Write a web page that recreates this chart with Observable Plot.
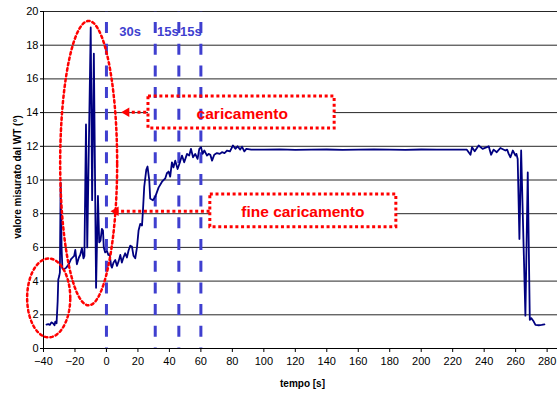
<!DOCTYPE html>
<html>
<head>
<meta charset="utf-8">
<script src="https://cdn.jsdelivr.net/npm/d3@7"></script>
<script src="https://cdn.jsdelivr.net/npm/@observablehq/plot@0.6"></script>
<style>
  html, body { margin: 0; padding: 0; background: #fff; }
  svg text { font-family: "Liberation Sans", Arial, sans-serif; }
</style>
</head>
<body>
<div id="chart"></div>
<script>
// ---- data ----
const tempo = [-38.1,-37,-36,-35,-34,-33,-32.5,-31.7,-31,-30.6,-30,-29.6,-29.1,-28.5,-28,-27,-25.5,-24,-22.5,-21.5,-20.5,-19.8,-18.8,-17.5,-16.7,-15.6,-14.6,-14,-13,-12.2,-10,-9.1,-8,-6.6,-5.4,-4.6,-3.8,-2.9,-2.2,-1.7,-0.8,0.3,1.2,2,3,3.5,4.5,5.6,6.7,7.8,8.8,9.8,10.8,11.9,13,14,15.1,16.2,17.2,18.3,19.4,20.4,21.5,22.6,23.2,24,25.3,26.1,27.2,27.8,29.5,31,33.1,35.3,37.4,38.4,39.5,40.5,41.6,42.6,43.7,45.2,46.3,48,49.4,51.2,52.6,53.7,55,56.4,57.9,59,60.1,61.1,62.2,63.9,64.9,66,67.1,68.5,70.2,72,73.4,75,76.6,78.5,80.4,81.9,83.3,85,86.1,87.6,88.9,92,100,110,120,130,140,150,160,170,180,190,200,210,220,229,231.3,232.3,234,236.5,239,242.9,244.4,246,248,250.3,253.5,254.6,255.6,256.7,258.2,259.9,260.5,261.3,262.4,263.5,266.2,267.7,269,270,271.5,272.6,274.7,276.5,278.3];
const valore = [1.42,1.45,1.4,1.55,1.5,1.38,1.6,1.5,2.8,4.1,4.3,4.5,9.85,6.0,4.75,4.7,4.8,5.0,5.3,5.4,5.5,5.85,5.0,5.4,5.55,5.95,5.35,5.5,13.3,6.0,19.05,8.8,17.5,3.6,9.05,6.3,6.4,7.1,7.0,6.0,5.7,5.8,5.55,5.6,4.9,4.8,5.1,5.25,4.9,5.2,5.55,5.1,5.4,5.65,5.4,5.8,6.1,6.05,5.5,5.35,6.0,7.0,7.4,7.3,8.2,9.6,10.6,10.8,10.0,8.9,8.8,9.0,9.55,9.9,10.1,10.4,10.5,10.2,11.05,10.75,11.15,10.65,10.95,11.45,11.05,11.55,11.45,11.85,11.35,11.55,11.25,11.85,11.95,11.55,11.75,11.45,11.55,11.5,11.15,11.5,11.6,11.55,11.65,11.6,11.75,11.7,12.05,11.85,12.0,11.8,11.98,11.7,11.85,11.8,11.8,11.82,11.79,11.8,11.81,11.79,11.8,11.82,11.8,11.79,11.81,11.8,11.8,11.8,11.5,11.95,11.7,12.05,11.85,12.0,11.5,11.8,11.65,11.9,11.75,11.8,11.55,11.35,11.75,11.45,11.55,11.25,6.5,11.75,1.95,10.45,1.7,1.8,1.6,1.4,1.38,1.4,1.43];

const xTicks = [-40,-20,0,20,40,60,80,100,120,140,160,180,200,220,240,260,280];
const yTicks = [0,2,4,6,8,10,12,14,16,18,20];

// vertical phase markers
const markerX = [0, 31, 46, 60];
const markerLabels = ["30s", "15s", "15s"];
const markerLabelX = [15.1, 39.0, 53.7];
const markerLabelY = 18.8;

// annotation boxes
const boxLabels = ["caricamento", "fine caricamento"];
const boxX1 = [26.7, 66.0];
const boxX2 = [145.0, 184.2];
const boxY1 = [13.05, 7.2];
const boxY2 = [14.95, 9.14];
const boxTextX = [86.3, 124.8];
const boxTextY = [13.92, 8.09];
const arrowY = [14.02, 8.15];
const arrowHeadX = [12.8, 6.0];

// dotted ellipses (centre, radii in data units)
const ellCx = [-36.7, -11.3];
const ellCy = [3.0, 11.0];
const ellRx = [13.7, 18.1];
const ellRy = [2.34, 8.44];

// ---- build tables ----
const series = tempo.map((t, i) => ({t, v: valore[i]}));
const markers = markerX.map(x => ({x}));
const mlabels = markerLabels.map((s, i) => ({s, x: markerLabelX[i], y: markerLabelY}));
const boxes = boxLabels.map((s, i) => ({s, x1: boxX1[i], x2: boxX2[i], y1: boxY1[i], y2: boxY2[i], tx: boxTextX[i], ty: boxTextY[i], ay: arrowY[i], hx: arrowHeadX[i]}));
const ellPts = [];
ellCx.forEach((cx, k) => {
  for (let j = 0; j < 160; j++) {
    const a = 2 * Math.PI * j / 160;
    ellPts.push({id: k, x: cx + ellRx[k] * Math.cos(a), y: ellCy[k] + ellRy[k] * Math.sin(a)});
  }
});

const RED = "#ff0000";
const BLUE = "#3f3fcf";

const chart = Plot.plot({
  width: 557,
  height: 393,
  marginLeft: 43,
  marginRight: 0,
  marginTop: 11,
  marginBottom: 45,
  style: {fontFamily: "Liberation Sans, Arial, sans-serif", fontSize: "11px", color: "#000", background: "#fff"},
  x: {domain: [-40, 286.6]},
  y: {domain: [0, 20]},
  marks: [
    Plot.gridY(yTicks, {stroke: "#000", strokeOpacity: 0.85, strokeWidth: 1}),
    Plot.rect(boxes, {x1: "x1", x2: "x2", y1: "y1", y2: "y2", fill: "#fff"}),
    Plot.ruleX(markers, {x: "x", y1: 20, y2: 0, stroke: BLUE, strokeWidth: 3, strokeDasharray: "11,10.7", strokeDashoffset: 10.7}),
    Plot.text(mlabels, {x: "x", y: "y", text: "s", fill: BLUE, fontWeight: "bold", fontSize: 13}),
    Plot.ruleX([-40], {stroke: "#000", strokeWidth: 1}),
    Plot.ruleY([0], {stroke: "#000", strokeWidth: 1}),
    Plot.axisX(xTicks, {tickSize: 4, tickPadding: 5, label: null}),
    Plot.axisY(yTicks, {tickSize: 3, tickPadding: 2, label: null}),
    Plot.line(series, {x: "t", y: "v", stroke: "#000080", strokeWidth: 1.8, strokeLinejoin: "round"}),
    Plot.line(ellPts, {x: "x", y: "y", z: "id", curve: "linear-closed", stroke: RED, strokeWidth: 2.5, strokeDasharray: "2.5,3"}),
    Plot.rect(boxes, {x1: "x1", x2: "x2", y1: "y1", y2: "y2", fill: "none", stroke: RED, strokeWidth: 3, strokeDasharray: "3,2.7"}),
    Plot.ruleY(boxes, {y: "ay", x1: "hx", x2: "x1", stroke: RED, strokeWidth: 3, strokeDasharray: "3,2.7"}),
    Plot.dot(boxes, {x: "hx", y: "ay", symbol: "triangle", rotate: -90, r: 3.5, fill: RED, stroke: "none"}),
    Plot.text(boxes, {x: "tx", y: "ty", text: "s", fill: RED, fontWeight: "bold", fontSize: 15.5}),
    Plot.text(["valore misurato dal WT (°)"], {text: d => d, frameAnchor: "left", dx: -25.5, dy: -3, rotate: -90, textAnchor: "middle", lineAnchor: "middle", fontWeight: "bold", fontSize: 10}),
    Plot.text(["tempo [s]"], {text: d => d, frameAnchor: "bottom", dx: 2, dy: 35, textAnchor: "middle", lineAnchor: "middle", fontWeight: "bold", fontSize: 10})
  ]
});
document.getElementById("chart").appendChild(chart);
</script>
</body>
</html>
